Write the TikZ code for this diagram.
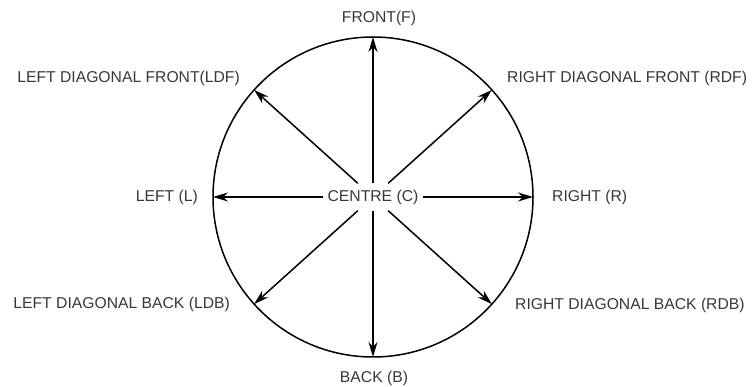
\documentclass[tikz,border=0pt]{standalone}
\usepackage{fontspec}
\setmainfont{Liberation Sans}
\usetikzlibrary{arrows.meta}
\definecolor{labelgray}{HTML}{383838}
\begin{document}
\begin{tikzpicture}[x=1pt,y=-1pt,
  lbl/.style={text=labelgray,font=\fontsize{15.7}{18}\selectfont,inner sep=0pt},
  ray/.style={line width=1.5pt,-{Stealth[length=15pt,width=9pt]}},
  ring/.style={line width=1.5pt}]
\useasboundingbox (0,0) rectangle (756,387);
\coordinate (O) at (373,197);
\draw[ring] (O) circle[radius=160];
\coordinate (pF) at (373,37);
\coordinate (pB) at (373,357);
\coordinate (pL) at (213,197);
\coordinate (pR) at (533,197);
\path (O) ++(-118.9,-107.1) coordinate (pLDF);
\path (O) ++(118.9,-107.1) coordinate (pRDF);
\path (O) ++(-118.9,107.1) coordinate (pLDB);
\path (O) ++(118.9,107.1) coordinate (pRDB);
\node[lbl,fill=white,inner xsep=4pt,minimum height=27pt] (C) at (373,197) {CENTRE (C)};
\foreach \p in {pF,pB,pL,pR,pLDF,pRDF,pLDB,pRDB} \draw[ray] (C) -- (\p);
\node[lbl] (F) at (379,18) {FRONT(F)};
\node[lbl] (B) at (374,378) {BACK (B)};
\node[lbl,anchor=east] (L) at (198,197) {LEFT (L)};
\node[lbl,anchor=west] (R) at (552,197) {RIGHT (R)};
\node[lbl,anchor=east] (LDF) at (240,78) {LEFT DIAGONAL FRONT(LDF)};
\node[lbl,anchor=west] (RDF) at (507,78) {RIGHT DIAGONAL FRONT (RDF)};
\node[lbl,anchor=east] (LDB) at (230,304) {LEFT DIAGONAL BACK (LDB)};
\node[lbl,anchor=west] (RDB) at (515,305) {RIGHT DIAGONAL BACK (RDB)};
\end{tikzpicture}
\end{document}
